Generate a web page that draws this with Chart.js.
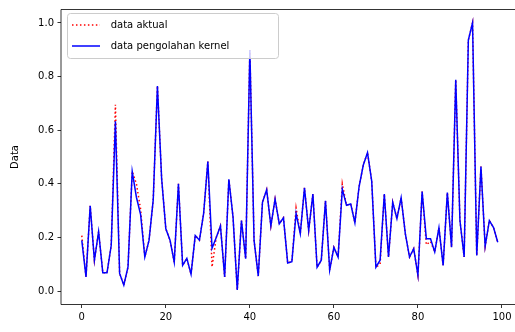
<!DOCTYPE html>
<html>
<head>
<meta charset="utf-8">
<script src="https://cdn.jsdelivr.net/npm/chart.js@4.4.1/dist/chart.umd.min.js"></script>
<style>
  html, body { margin: 0; padding: 0; background: #fff; overflow: hidden; }
  #wrap { width: 515px; height: 332px; position: relative; }
</style>
</head>
<body>
<div id="wrap"><canvas id="c"></canvas></div>
<script>
// ---- data ----
const xIndex = [0,1,2,3,4,5,6,7,8,9,10,11,12,13,14,15,16,17,18,19,20,21,22,23,24,25,26,27,28,29,
  30,31,32,33,34,35,36,37,38,39,40,41,42,43,44,45,46,47,48,49,50,51,52,53,54,55,56,57,58,59,
  60,61,62,63,64,65,66,67,68,69,70,71,72,73,74,75,76,77,78,79,80,81,82,83,84,85,86,87,88,89,
  90,91,92,93,94,95,96,97,98,99];

const dataAktual = [0.207,0.053,0.318,0.115,0.222,0.068,0.068,0.170,0.695,0.066,
  0.022,0.090,0.446,0.400,0.305,0.127,0.189,0.340,0.765,0.420,
  0.232,0.190,0.108,0.400,0.096,0.122,0.063,0.207,0.190,0.290,
  0.483,0.090,0.200,0.243,0.053,0.417,0.275,0.004,0.263,0.121,
  0.899,0.189,0.056,0.331,0.378,0.243,0.343,0.251,0.273,0.105,
  0.110,0.310,0.214,0.385,0.226,0.362,0.089,0.115,0.337,0.078,
  0.163,0.127,0.400,0.320,0.325,0.255,0.390,0.470,0.516,0.410,
  0.089,0.100,0.362,0.127,0.331,0.270,0.348,0.214,0.127,0.158,
  0.059,0.371,0.173,0.185,0.146,0.236,0.096,0.367,0.164,0.788,
  0.263,0.127,0.936,1.000,0.133,0.464,0.167,0.263,0.237,0.182];

const dataKernel = [0.189,0.053,0.318,0.115,0.222,0.068,0.068,0.170,0.633,0.066,
  0.022,0.090,0.446,0.350,0.285,0.127,0.189,0.340,0.765,0.420,
  0.232,0.190,0.108,0.400,0.096,0.122,0.063,0.207,0.190,0.290,
  0.483,0.160,0.200,0.243,0.053,0.417,0.275,0.004,0.263,0.121,
  0.899,0.189,0.056,0.331,0.378,0.243,0.343,0.251,0.273,0.105,
  0.110,0.290,0.214,0.385,0.226,0.362,0.089,0.115,0.337,0.078,
  0.163,0.127,0.380,0.320,0.325,0.255,0.390,0.470,0.516,0.410,
  0.089,0.115,0.362,0.127,0.331,0.270,0.348,0.214,0.127,0.158,
  0.059,0.371,0.195,0.195,0.146,0.236,0.096,0.367,0.164,0.788,
  0.263,0.127,0.936,1.000,0.133,0.464,0.167,0.263,0.237,0.182];

const xTicks = [0, 20, 40, 60, 80, 100];
const yTicks = [0.0, 0.2, 0.4, 0.6, 0.8, 1.0];
const seriesNames = ['data aktual', 'data pengolahan kernel'];
const yTitle = 'Data';

// ---- chart ----
const FONT = '"DejaVu Sans", sans-serif';

const framePlugin = {
  id: 'frame',
  afterDatasetsDraw(chart) {
    const { ctx, chartArea: a } = chart;
    ctx.save();
    ctx.strokeStyle = '#000';
    ctx.lineWidth = 0.8;
    ctx.beginPath();
    ctx.moveTo(a.right + 2, a.top);
    ctx.lineTo(a.left, a.top);
    ctx.lineTo(a.left, a.bottom);
    ctx.lineTo(a.right + 2, a.bottom);
    ctx.stroke();

    // legend (matplotlib-style, upper left)
    const lx = 67.5, ly = 13.5, lw = 211, lh = 45, r = 3;
    ctx.beginPath();
    ctx.moveTo(lx + r, ly);
    ctx.lineTo(lx + lw - r, ly);
    ctx.quadraticCurveTo(lx + lw, ly, lx + lw, ly + r);
    ctx.lineTo(lx + lw, ly + lh - r);
    ctx.quadraticCurveTo(lx + lw, ly + lh, lx + lw - r, ly + lh);
    ctx.lineTo(lx + r, ly + lh);
    ctx.quadraticCurveTo(lx, ly + lh, lx, ly + lh - r);
    ctx.lineTo(lx, ly + r);
    ctx.quadraticCurveTo(lx, ly, lx + r, ly);
    ctx.closePath();
    ctx.fillStyle = 'rgba(255,255,255,0.8)';
    ctx.fill();
    ctx.strokeStyle = '#cccccc';
    ctx.lineWidth = 1;
    ctx.stroke();

    const rows = [25, 46];
    const ds = chart.data.datasets;
    for (let k = 0; k < 2; k++) {
      ctx.beginPath();
      ctx.setLineDash(ds[k].borderDash || []);
      ctx.strokeStyle = ds[k].borderColor;
      ctx.lineWidth = ds[k].borderWidth;
      ctx.moveTo(72, rows[k]);
      ctx.lineTo(100, rows[k]);
      ctx.stroke();
      ctx.setLineDash([]);
      ctx.fillStyle = '#000';
      ctx.font = '10px ' + FONT;
      ctx.textBaseline = 'middle';
      ctx.textAlign = 'left';
      ctx.fillText(ds[k].label, 110.7, rows[k] + 0.5);
    }
    ctx.restore();
  }
};

new Chart(document.getElementById('c'), {
  type: 'line',
  data: {
    datasets: [
      {
        label: seriesNames[0],
        data: xIndex.map((x, i) => ({ x: x, y: dataAktual[i] })),
        borderColor: '#ff0000',
        borderWidth: 1.5,
        borderDash: [1.5, 2.475],
        pointRadius: 0,
        tension: 0,
        fill: false,
        order: 1
      },
      {
        label: seriesNames[1],
        data: xIndex.map((x, i) => ({ x: x, y: dataKernel[i] })),
        borderColor: '#0000ff',
        borderWidth: 1.5,
        pointRadius: 0,
        tension: 0,
        fill: false,
        order: 0
      }
    ]
  },
  options: {
    responsive: true,
    maintainAspectRatio: false,
    devicePixelRatio: 1,
    animation: false,
    layout: { padding: { top: 7.5, right: 0, left: 0, bottom: 0 } },
    plugins: { legend: { display: false }, tooltip: { enabled: false } },
    scales: {
      x: {
        type: 'linear',
        min: -4.95,
        max: 103.0,
        afterBuildTicks: (s) => { s.ticks = xTicks.map(v => ({ value: v })); },
        afterFit: (s) => { s.height = 27.5; },
        border: { display: false },
        grid: { drawOnChartArea: false, drawTicks: true, tickLength: 3.5, tickColor: '#000', tickWidth: 0.8 },
        ticks: {
          color: '#000', padding: 3.5, maxRotation: 0, autoSkip: false,
          font: { family: FONT, size: 10 },
          callback: (v) => String(v)
        }
      },
      y: {
        min: -0.05,
        max: 1.05,
        afterBuildTicks: (s) => { s.ticks = yTicks.map(v => ({ value: v })); },
        afterFit: (s) => { s.width = 61; },
        border: { display: false },
        grid: { drawOnChartArea: false, drawTicks: true, tickLength: 3.5, tickColor: '#000', tickWidth: 0.8 },
        ticks: {
          color: '#000', padding: 3.5, autoSkip: false,
          font: { family: FONT, size: 10 },
          callback: (v) => Number(v).toFixed(1)
        },
        title: {
          display: true, text: yTitle, color: '#000',
          font: { family: FONT, size: 10 },
          padding: { top: 9, bottom: 0 }
        }
      }
    }
  },
  plugins: [framePlugin]
});
</script>
</body>
</html>
